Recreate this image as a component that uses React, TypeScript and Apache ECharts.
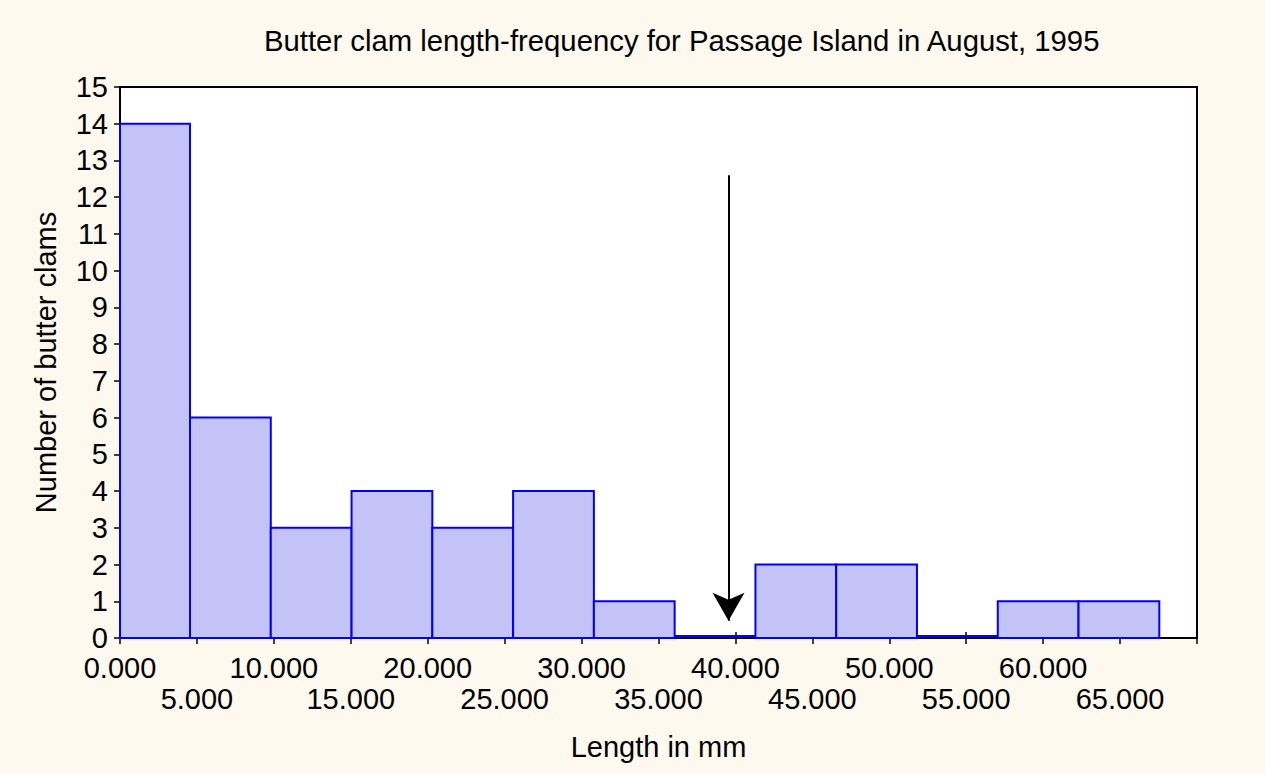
import React, { useEffect, useRef } from "react";
import * as echarts from "echarts";

const titleText = "Butter clam length-frequency for Passage Island in August, 1995";
const xAxisName = "Length in mm";
const yAxisName = "Number of butter clams";

// histogram bin edges (mm) and counts
const binEdges = [0, 4.55, 9.8, 15.05, 20.3, 25.55, 30.8, 36.05, 41.3, 46.55, 51.8, 57.05, 62.3, 67.55];
const counts = [14, 6, 3, 4, 3, 4, 1, 0, 2, 2, 0, 1, 1];

// arrow marker (x position in mm, from / to counts)
const arrowX = 39.55;
const arrowFrom = 12.6;
const arrowTo = 0.47;

const FONT = "'Liberation Sans', Arial, sans-serif";
const FS = 29;

export default function App() {
  const ref = useRef<HTMLDivElement>(null);
  useEffect(() => {
    if (!ref.current) return;
    const chart = echarts.init(ref.current, null, { renderer: "svg" });
    const barData = counts.map((c, i) => [binEdges[i], binEdges[i + 1], c]);
    const axisCommon = {
      type: "value",
      axisLine: { show: true, lineStyle: { color: "#000", width: 2 } },
      axisTick: { show: true, inside: true, length: 6, lineStyle: { color: "#000", width: 1.5 } },
      splitLine: { show: false },
    };
    chart.setOption({
      animation: false,
      backgroundColor: "#fef9ee",
      textStyle: { fontFamily: FONT },
      title: {
        text: titleText,
        left: 259,
        top: 21,
        textStyle: { fontSize: 29.3, fontWeight: "normal", color: "#000", fontFamily: FONT },
      },
      grid: {
        left: 120,
        right: 68,
        top: 87,
        bottom: 136,
        show: true,
        backgroundColor: "#fff",
        borderColor: "#000",
        borderWidth: 2,
      },
      xAxis: [
        {
          ...axisCommon,
          min: 0,
          max: 70,
          interval: 5,
          position: "bottom",
          name: xAxisName,
          nameLocation: "middle",
          nameGap: 94,
          nameTextStyle: { fontSize: FS, color: "#000", fontFamily: FONT },
          axisLabel: {
            show: true,
            fontSize: FS,
            color: "#000",
            fontFamily: FONT,
            lineHeight: 31,
            margin: 14,
            formatter: (v: number) => (Math.round(v) % 10 === 0 ? v.toFixed(3) : "\n" + v.toFixed(3)),
          },
        },
        {
          ...axisCommon,
          min: 0,
          max: 70,
          interval: 5,
          position: "top",
          axisLabel: { show: false },
        },
      ],
      yAxis: [
        {
          ...axisCommon,
          min: 0,
          max: 15,
          interval: 1,
          position: "left",
          name: yAxisName,
          nameLocation: "middle",
          nameGap: 60,
          nameTextStyle: { fontSize: FS, color: "#000", fontFamily: FONT },
          axisLabel: { show: true, fontSize: FS, color: "#000", fontFamily: FONT, margin: 12, lineHeight: 20 },
        },
        {
          ...axisCommon,
          min: 0,
          max: 15,
          interval: 1,
          position: "right",
          axisLabel: { show: false },
        },
      ],
      series: [
        {
          type: "custom",
          xAxisIndex: 0,
          yAxisIndex: 0,
          data: barData,
          encode: { x: [0, 1], y: 2 },
          z: 5,
          renderItem: (params: any, api: any) => {
            const s = api.coord([api.value(0), api.value(2)]);
            const e = api.coord([api.value(1), 0]);
            if (api.value(2) === 0) {
              return {
                type: "line",
                shape: { x1: s[0], y1: e[1] - 2, x2: e[0], y2: e[1] - 2 },
                style: { stroke: "#0000ff", lineWidth: 2 },
              };
            }
            return {
              type: "rect",
              shape: { x: s[0], y: s[1], width: e[0] - s[0], height: e[1] - s[1] },
              style: { fill: "#c3c3f7", stroke: "#0000ff", lineWidth: 2 },
            };
          },
        },
        {
          type: "line",
          xAxisIndex: 0,
          yAxisIndex: 0,
          data: [],
          silent: true,
          z: 6,
          markLine: {
            silent: true,
            symbol: ["none", "arrow"],
            symbolSize: [24, 28],
            label: { show: false },
            lineStyle: { color: "#000", width: 2, type: "solid" },
            data: [[{ coord: [arrowX, arrowFrom] }, { coord: [arrowX, arrowTo] }]],
          },
        },
      ],
    });
    return () => chart.dispose();
  }, []);
  return <div ref={ref} style={{ position: "fixed", left: 0, top: 0, width: 1265, height: 774 }} />;
}
